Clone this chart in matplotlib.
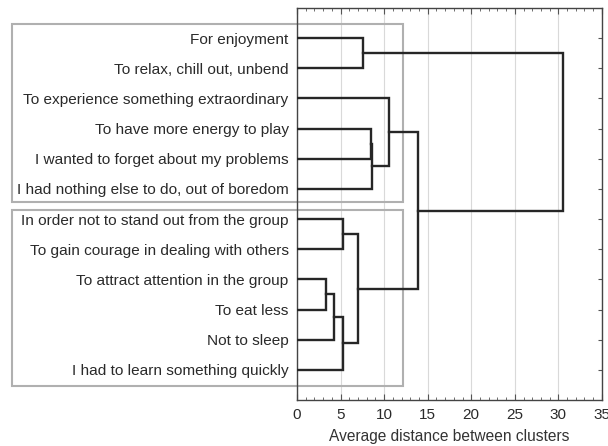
import matplotlib
matplotlib.use("Agg")
import matplotlib.pyplot as plt
from matplotlib.patches import Rectangle
from matplotlib.ticker import MultipleLocator

plt.rcParams['font.family'] = ['Liberation Sans', 'DejaVu Sans']

leaves = [
    "For enjoyment",
    "To relax, chill out, unbend",
    "To experience something extraordinary",
    "To have more energy to play",
    "I wanted to forget about my problems",
    "I had nothing else to do, out of boredom",
    "In order not to stand out from the group",
    "To gain courage in dealing with others",
    "To attract attention in the group",
    "To eat less",
    "Not to sleep",
    "I had to learn something quickly",
]
# merges: (child_a, child_b, height); children refer to leaf index (0..11)
# or to a previous merge as 'm<k>'
merge_a = [0, 3, "m1", 2, 6, 8, "m5", "m6", "m4", "m3", "m0"]
merge_b = [1, 4, 5, "m2", 7, 9, 10, 11, "m7", "m8", "m9"]
merge_h = [7.57, 8.5, 8.6, 10.6, 5.24, 3.33, 4.25, 5.24, 6.96, 13.85, 30.49]

fig = plt.figure(figsize=(6.08, 4.46), dpi=100)
ax = fig.add_axes([0.4885, 0.1031, 0.5015, 0.8789])

pos = {}
hts = {}
for i in range(len(leaves)):
    pos[i] = i + 1
    hts[i] = 0.0

lc = '#262626'
for k, (a, b, h) in enumerate(zip(merge_a, merge_b, merge_h)):
    ya, yb = pos[a], pos[b]
    xa, xb = hts[a], hts[b]
    ax.plot([xa, h, h, xb], [ya, ya, yb, yb], color=lc, lw=1.7,
            solid_joinstyle='miter', zorder=3)
    pos["m%d" % k] = (ya + yb) / 2
    hts["m%d" % k] = h

ax.set_xlim(0, 35)
ax.set_ylim(13, 0)
ax.set_yticks(range(1, len(leaves) + 1))
ax.set_yticklabels(leaves, fontsize=11.1, color='#2a2a2a')
ax.tick_params(axis='y', left=False, right=True, direction='in', length=3,
               pad=6, color='#555555')
ax.xaxis.set_major_locator(MultipleLocator(5))
ax.xaxis.set_minor_locator(MultipleLocator(1))
ax.tick_params(axis='x', which='both', direction='in', top=True, bottom=True,
               color='#555555', labelsize=11, labelcolor='#2a2a2a')
ax.tick_params(axis='x', which='major', length=4, pad=6)
ax.tick_params(axis='x', which='minor', length=2)
ax.grid(axis='x', which='major', color='#d9d9d9', lw=0.8, zorder=0)
for s in ax.spines.values():
    s.set_color('#444444')
    s.set_linewidth(1.0)
ax.set_xlabel("Average distance between clusters", fontsize=11.2,
              color='#333333', labelpad=5)

box_color = '#b0b0b0'
for (y0, y1) in [(0.53, 6.43), (6.70, 12.55)]:
    r = Rectangle((-32.7, y0), 32.7 + 12.2, y1 - y0, fill=False,
                  edgecolor=box_color, lw=1.5, clip_on=False, zorder=2)
    ax.add_patch(r)

fig.savefig("out.png", dpi=100)
